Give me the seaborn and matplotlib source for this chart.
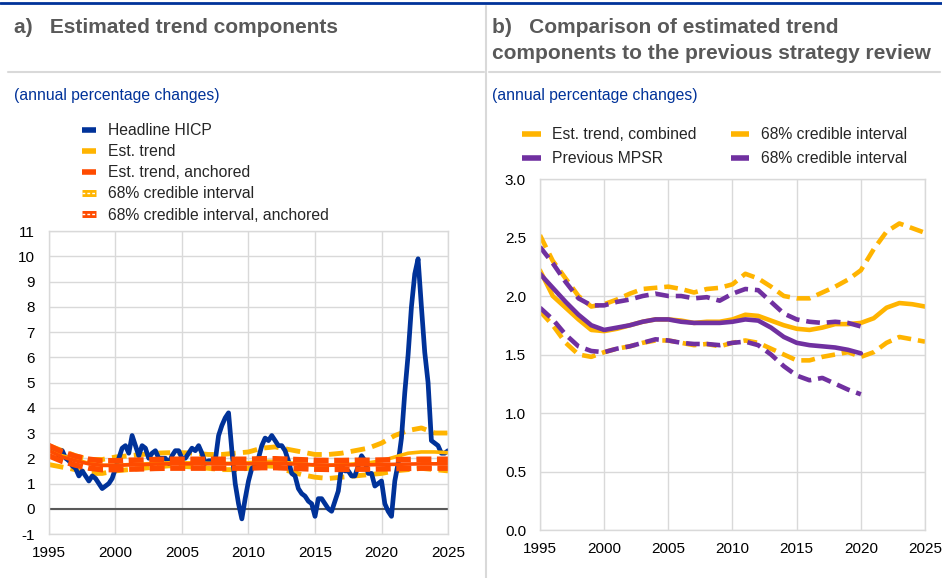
import numpy as np
import pandas as pd
import matplotlib
matplotlib.use("Agg")
import matplotlib.pyplot as plt
from matplotlib.lines import Line2D
import seaborn as sns

# ---- data ----
quarters = 1995 + np.arange(121) / 4

hicp = [
    2.5, 2.4, 2.3, 2.1,
    2.3, 2.0, 1.9, 1.7,
    1.6, 1.3, 1.5, 1.3,
    1.1, 1.3, 1.2, 1.0,
    0.8, 0.9, 1.0, 1.2,
    1.6, 2.0, 2.4, 2.5,
    2.2, 2.9, 2.5, 2.1,
    2.5, 2.4, 2.0, 2.2,
    2.3, 2.0, 2.0, 2.0,
    1.8, 2.1, 2.3, 2.3,
    2.0, 2.0, 2.2, 2.4,
    2.3, 2.5, 2.2, 1.8,
    1.9, 1.9, 1.9, 2.9,
    3.3, 3.6, 3.8, 2.3,
    1.0, 0.2, -0.4, 0.4,
    1.1, 1.6, 1.7, 2.0,
    2.5, 2.8, 2.7, 2.9,
    2.7, 2.5, 2.5, 2.3,
    1.9, 1.4, 1.3, 0.8,
    0.6, 0.5, 0.3, 0.2,
    -0.3, 0.4, 0.4, 0.2,
    0.0, -0.1, 0.3, 0.7,
    1.7, 1.5, 1.5, 1.3,
    1.3, 1.7, 2.1, 1.9,
    1.4, 1.4, 0.9, 1.0,
    1.1, 0.2, -0.1, -0.3,
    1.1, 1.8, 2.8, 4.6,
    6.1, 8.0, 9.3, 9.9,
    8.0, 6.2, 5.0, 2.7,
    2.6, 2.5, 2.2, 2.2,
    2.3,
]

years = list(range(1995, 2026))

trend = [2.30, 2.10, 1.95, 1.80, 1.72, 1.72, 1.75, 1.77, 1.80, 1.82, 1.82,
         1.82, 1.80, 1.80, 1.80, 1.82, 1.88, 1.88, 1.82, 1.78, 1.72, 1.72,
         1.74, 1.78, 1.82, 1.90, 2.05, 2.20, 2.25, 2.25, 2.22]
trend_hi = [2.50, 2.30, 2.10, 1.95, 1.95, 2.05, 2.10, 2.15, 2.20, 2.22, 2.22,
            2.20, 2.15, 2.15, 2.20, 2.25, 2.40, 2.45, 2.35, 2.25, 2.15, 2.15,
            2.20, 2.30, 2.40, 2.60, 2.90, 3.10, 3.20, 3.00, 3.00]
trend_lo = [1.75, 1.65, 1.55, 1.40, 1.40, 1.50, 1.55, 1.60, 1.65, 1.70, 1.68,
            1.65, 1.60, 1.55, 1.55, 1.60, 1.70, 1.68, 1.50, 1.35, 1.25, 1.20,
            1.25, 1.30, 1.35, 1.40, 1.50, 1.55, 1.60, 1.55, 1.50]

anch = [2.30, 2.05, 1.90, 1.78, 1.72, 1.72, 1.74, 1.75, 1.77, 1.78, 1.78,
        1.78, 1.78, 1.78, 1.78, 1.78, 1.80, 1.80, 1.78, 1.76, 1.74, 1.73,
        1.73, 1.74, 1.74, 1.75, 1.76, 1.77, 1.78, 1.78, 1.78]
anch_hi = [2.50, 2.25, 2.08, 1.96, 1.90, 1.90, 1.92, 1.93, 1.95, 1.96, 1.96,
           1.96, 1.96, 1.96, 1.96, 1.96, 1.98, 1.98, 1.96, 1.94, 1.92, 1.91,
           1.91, 1.92, 1.92, 1.93, 1.94, 1.95, 1.96, 1.96, 1.96]
anch_lo = [2.10, 1.88, 1.73, 1.61, 1.55, 1.55, 1.57, 1.58, 1.60, 1.61, 1.61,
           1.61, 1.61, 1.61, 1.61, 1.61, 1.63, 1.63, 1.61, 1.59, 1.57, 1.56,
           1.56, 1.57, 1.57, 1.58, 1.59, 1.60, 1.61, 1.61, 1.61]

comb = [2.22, 2.00, 1.90, 1.80, 1.71, 1.70, 1.72, 1.75, 1.78, 1.80, 1.80,
        1.79, 1.77, 1.78, 1.78, 1.80, 1.84, 1.83, 1.79, 1.75, 1.72, 1.71,
        1.73, 1.76, 1.76, 1.77, 1.81, 1.90, 1.94, 1.93, 1.91]
comb_hi = [2.52, 2.30, 2.15, 2.00, 1.91, 1.93, 1.97, 2.02, 2.06, 2.07, 2.08,
           2.06, 2.03, 2.06, 2.07, 2.10, 2.19, 2.15, 2.08, 2.00, 1.98, 1.98,
           2.03, 2.08, 2.14, 2.22, 2.40, 2.55, 2.62, 2.58, 2.54]
comb_lo = [1.87, 1.75, 1.60, 1.50, 1.48, 1.52, 1.55, 1.57, 1.60, 1.62, 1.62,
           1.60, 1.58, 1.59, 1.57, 1.60, 1.62, 1.60, 1.55, 1.50, 1.45, 1.45,
           1.48, 1.50, 1.52, 1.48, 1.52, 1.60, 1.65, 1.63, 1.61]

prev_years = list(range(1995, 2021))
prev = [2.19, 2.07, 1.95, 1.84, 1.75, 1.71, 1.73, 1.75, 1.78, 1.80, 1.80,
        1.78, 1.77, 1.77, 1.77, 1.78, 1.80, 1.79, 1.73, 1.65, 1.60, 1.58,
        1.57, 1.56, 1.54, 1.51]
prev_hi = [2.42, 2.28, 2.12, 1.98, 1.92, 1.92, 1.95, 1.97, 2.00, 2.02, 2.00,
           2.00, 1.98, 1.99, 1.96, 2.02, 2.06, 2.05, 1.95, 1.85, 1.80, 1.78,
           1.77, 1.78, 1.77, 1.74]
prev_lo = [1.90, 1.80, 1.67, 1.57, 1.53, 1.52, 1.55, 1.57, 1.60, 1.63, 1.62,
           1.60, 1.59, 1.59, 1.58, 1.60, 1.61, 1.58, 1.50, 1.40, 1.32, 1.28,
           1.30, 1.25, 1.20, 1.16]

left_labels = ["Headline HICP", "Est. trend", "Est. trend, anchored",
               "68% credible interval", "68% credible interval, anchored"]
right_labels = ["Est. trend, combined", "Previous MPSR",
                "68% credible interval", "68% credible interval"]

BLUE = "#003299"
YELLOW = "#FFB400"
ORANGE = "#FF4B00"
PURPLE = "#7030A0"
GRID = "#D9D9D9"
TITLE = "#595959"

df_q = pd.DataFrame({"x": quarters, "hicp": hicp})
df_a = pd.DataFrame({"x": years, "trend": trend, "trend_hi": trend_hi,
                     "trend_lo": trend_lo, "anch": anch, "anch_hi": anch_hi,
                     "anch_lo": anch_lo, "comb": comb, "comb_hi": comb_hi,
                     "comb_lo": comb_lo})
df_p = pd.DataFrame({"x": prev_years, "prev": prev, "prev_hi": prev_hi,
                     "prev_lo": prev_lo})

sns.set_theme(style="whitegrid")
plt.rcParams["font.family"] = ["Liberation Sans", "DejaVu Sans"]
plt.rcParams["axes.unicode_minus"] = False

fig = plt.figure(figsize=(9.42, 5.78), dpi=100)
ax1 = fig.add_axes([0.052, 0.0761, 0.4236, 0.5242])
ax2 = fig.add_axes([0.5732, 0.0830, 0.4088, 0.6073])

dash_y = (0, (3, 1.5))
dash_o = (0, (2.7, 1.0))

# ---- panel a ----
ax1.axhline(0, color="#595959", lw=1.5, zorder=1)
sns.lineplot(data=df_a, x="x", y="trend_hi", ax=ax1, color=YELLOW, lw=3.5, linestyle=dash_y)
sns.lineplot(data=df_a, x="x", y="trend_lo", ax=ax1, color=YELLOW, lw=3.5, linestyle=dash_y)
sns.lineplot(data=df_q, x="x", y="hicp", ax=ax1, color=BLUE, lw=3.4)
sns.lineplot(data=df_a, x="x", y="trend", ax=ax1, color=YELLOW, lw=2.6)
sns.lineplot(data=df_a, x="x", y="anch", ax=ax1, color=ORANGE, lw=2.6)
sns.lineplot(data=df_a, x="x", y="anch_hi", ax=ax1, color=ORANGE, lw=4, linestyle=dash_o)
sns.lineplot(data=df_a, x="x", y="anch_lo", ax=ax1, color=ORANGE, lw=4, linestyle=dash_o)

ax1.set_xlim(1995, 2025)
ax1.set_ylim(-1, 11)
ax1.set_yticks(range(-1, 12))
ax1.set_xticks(range(1995, 2026, 5))

# ---- panel b ----
sns.lineplot(data=df_a, x="x", y="comb_hi", ax=ax2, color=YELLOW, lw=3.3, linestyle=dash_y)
sns.lineplot(data=df_a, x="x", y="comb_lo", ax=ax2, color=YELLOW, lw=3.3, linestyle=dash_y)
sns.lineplot(data=df_a, x="x", y="comb", ax=ax2, color=YELLOW, lw=3.3)
sns.lineplot(data=df_p, x="x", y="prev_hi", ax=ax2, color=PURPLE, lw=3.3, linestyle=dash_y)
sns.lineplot(data=df_p, x="x", y="prev_lo", ax=ax2, color=PURPLE, lw=3.3, linestyle=dash_y)
sns.lineplot(data=df_p, x="x", y="prev", ax=ax2, color=PURPLE, lw=3.3)

ax2.set_xlim(1995, 2025)
ax2.set_ylim(0, 3)
ax2.set_yticks(np.arange(0, 3.01, 0.5))
ax2.set_yticklabels([f"{v:.1f}" for v in np.arange(0, 3.01, 0.5)])
ax2.set_xticks(range(1995, 2026, 5))

for ax in (ax1, ax2):
    ax.set_xlabel("")
    ax.set_ylabel("")
    ax.grid(True, color=GRID, lw=1)
    for s in ax.spines.values():
        s.set_color(GRID)
        s.set_linewidth(1)
    ax.tick_params(axis="both", length=0, labelsize=11, colors="black")
    ax.tick_params(axis="x", pad=8.5)
    ax.tick_params(axis="y", pad=10)

# ---- legends ----
def iv_handle(c):
    return (Line2D([], [], color=c, lw=5, solid_capstyle="butt"),
            Line2D([], [], color="white", lw=1, linestyle=(0, (2, 1.5))))

lh = [Line2D([], [], color=BLUE, lw=4, solid_capstyle="butt"),
      Line2D([], [], color=YELLOW, lw=4, solid_capstyle="butt"),
      Line2D([], [], color=ORANGE, lw=4, solid_capstyle="butt"),
      iv_handle(YELLOW), iv_handle(ORANGE)]
fig.legend(lh, left_labels, loc="upper left", bbox_to_anchor=(0.080, 0.798),
           frameon=False, fontsize=11.3, handlelength=0.9, handletextpad=0.75,
           labelspacing=0.39, borderaxespad=0)

rh = [Line2D([], [], color=YELLOW, lw=4, solid_capstyle="butt"),
      Line2D([], [], color=PURPLE, lw=4, solid_capstyle="butt"),
      Line2D([], [], color=YELLOW, lw=4, solid_capstyle="butt"),
      Line2D([], [], color=PURPLE, lw=4, solid_capstyle="butt")]
fig.legend(rh, right_labels, loc="upper left", bbox_to_anchor=(0.548, 0.791),
           ncol=2, frameon=False, fontsize=11.3, handlelength=1.15,
           handletextpad=0.75, labelspacing=0.58, columnspacing=2.2,
           borderaxespad=0)

# ---- titles and frame ----
fig.text(0.015, 0.953, "a)   Estimated trend components", fontsize=15,
         fontweight="bold", color=TITLE, va="center")
fig.text(0.522, 0.953, "b)   Comparison of estimated trend", fontsize=15,
         fontweight="bold", color=TITLE, va="center")
fig.text(0.522, 0.908, "components to the previous strategy review", fontsize=15,
         fontweight="bold", color=TITLE, va="center")
fig.text(0.015, 0.834, "(annual percentage changes)", fontsize=11.3,
         color=BLUE, va="center")
fig.text(0.522, 0.834, "(annual percentage changes)", fontsize=11.3,
         color=BLUE, va="center")

fig.add_artist(Line2D([0, 1], [0.995, 0.995], color=BLUE, lw=2))
fig.add_artist(Line2D([0.008, 0.514], [0.875, 0.875], color=GRID, lw=1.5))
fig.add_artist(Line2D([0.519, 0.998], [0.875, 0.875], color=GRID, lw=1.5))
fig.add_artist(Line2D([0.516, 0.516], [0.0, 0.99], color=GRID, lw=1.5))

fig.savefig("out.png", dpi=100)
